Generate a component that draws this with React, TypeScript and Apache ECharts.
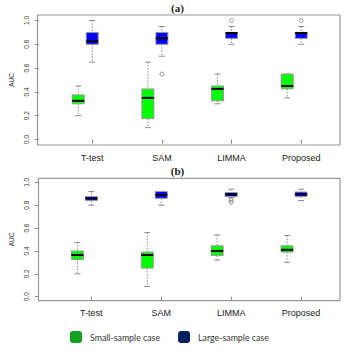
import React, { useEffect, useRef } from "react";
import * as echarts from "echarts";

const methods = ["T-test", "SAM", "LIMMA", "Proposed"];
const yTicks = [0, 0.2, 0.4, 0.6, 0.8, 1.0];

// [min, Q1, median, Q3, max]
const smallA = [
  [0.2, 0.3, 0.325, 0.375, 0.45],
  [0.1, 0.175, 0.35, 0.425, 0.65],
  [0.3, 0.325, 0.425, 0.45, 0.55],
  [0.35, 0.425, 0.45, 0.55, 0.55],
];
const largeA = [
  [0.65, 0.8, 0.825, 0.9, 1.0],
  [0.7, 0.8, 0.85, 0.9, 0.95],
  [0.8, 0.85, 0.895, 0.9, 0.95],
  [0.8, 0.85, 0.895, 0.9, 0.95],
];
const outliersA = [
  [1, 0.55],
  [2, 1.0],
  [3, 1.0],
];

const smallB = [
  [0.2, 0.325, 0.365, 0.4, 0.475],
  [0.09, 0.25, 0.365, 0.39, 0.56],
  [0.32, 0.36, 0.4, 0.445, 0.54],
  [0.3, 0.39, 0.41, 0.445, 0.535],
];
const largeB = [
  [0.8, 0.84, 0.86, 0.875, 0.92],
  [0.8, 0.86, 0.89, 0.92, 0.92],
  [0.865, 0.875, 0.895, 0.91, 0.94],
  [0.84, 0.875, 0.896, 0.915, 0.94],
];
const outliersB = [
  [2, 0.845],
  [2, 0.825],
];

const SMALL = "Small-sample case";
const LARGE = "Large-sample case";

export default function App() {
  const ref = useRef<HTMLDivElement>(null);
  useEffect(() => {
    if (!ref.current) return;
    const chart = echarts.init(ref.current, null, { renderer: "svg" });

    const makeRender = (fill: string, dx: number) => (params: any, api: any) => {
      const c = api.value(0);
      const pMin = api.coord([c, api.value(1)]);
      const pQ1 = api.coord([c, api.value(2)]);
      const pMed = api.coord([c, api.value(3)]);
      const pQ3 = api.coord([c, api.value(4)]);
      const pMax = api.coord([c, api.value(5)]);
      const x = pMin[0] + dx;
      const hw = 6;
      const cw = 3;
      const wStyle = { stroke: "#8c8c8c", lineWidth: 1, lineDash: [1.5, 1.5] };
      const cStyle = { stroke: "#8c8c8c", lineWidth: 1 };
      return {
        type: "group",
        children: [
          { type: "line", shape: { x1: x, y1: pMax[1], x2: x, y2: pQ3[1] }, style: wStyle },
          { type: "line", shape: { x1: x, y1: pQ1[1], x2: x, y2: pMin[1] }, style: wStyle },
          { type: "line", shape: { x1: x - cw, y1: pMax[1], x2: x + cw, y2: pMax[1] }, style: cStyle },
          { type: "line", shape: { x1: x - cw, y1: pMin[1], x2: x + cw, y2: pMin[1] }, style: cStyle },
          {
            type: "rect",
            shape: { x: x - hw, y: pQ3[1], width: hw * 2, height: pQ1[1] - pQ3[1] },
            style: { fill, stroke: "#999", lineWidth: 1 },
          },
          {
            type: "line",
            shape: { x1: x - hw, y1: pMed[1], x2: x + hw, y2: pMed[1] },
            style: { stroke: "#000", lineWidth: 2 },
          },
        ],
      };
    };

    const toRows = (arr: number[][]) => arr.map((r, i) => [i, ...r]);

    const panels = [
      { top: 20.5, height: 119, frameTop: 15, frameBottom: 145, axisX: 37.5, small: smallA, large: largeA, out: outliersA, title: "(a)", titleTop: 2 },
      { top: 182.3, height: 114.4, frameTop: 178.3, frameBottom: 300.7, axisX: 38.5, small: smallB, large: largeB, out: outliersB, title: "(b)", titleTop: 165 },
    ];

    const gridLeft = 56;
    const gridWidth = 280;

    const option: any = {
      animation: false,
      title: panels.map((p) => ({
        text: p.title,
        left: "center",
        top: p.titleTop,
        padding: 0,
        textStyle: { fontFamily: "Liberation Serif", fontWeight: "bold", fontSize: 11, color: "#222" },
      })),
      grid: panels.map((p) => ({ left: gridLeft, width: gridWidth, top: p.top, height: p.height })),
      xAxis: panels.map((p, i) => ({
        type: "category",
        gridIndex: i,
        data: methods,
        boundaryGap: true,
        offset: p.frameBottom - (p.top + p.height),
        axisLine: { show: false },
        axisTick: { show: true, alignWithLabel: true, length: 4, lineStyle: { color: "#888" } },
        axisLabel: { margin: 8, fontFamily: "Liberation Sans", fontSize: 9, color: "#222" },
        splitLine: { show: false },
      })),
      yAxis: panels.map((p, i) => ({
        type: "value",
        gridIndex: i,
        min: 0,
        max: 1,
        interval: 0.2,
        offset: gridLeft - p.axisX,
        name: "AUC",
        nameLocation: "middle",
        nameGap: 23,
        nameTextStyle: { fontFamily: "Liberation Sans", fontSize: 6.5, color: "#222" },
        axisLine: { show: false },
        axisTick: { show: true, length: 4, lineStyle: { color: "#888" } },
        axisLabel: {
          rotate: 90,
          margin: 9,
          fontFamily: "Liberation Sans",
          fontSize: 6.5,
          color: "#333",
          formatter: (v: number) => v.toFixed(1),
          customValues: yTicks,
        },
        splitLine: { show: false },
      })),
      graphic: panels.map((p) => ({
        type: "rect",
        shape: { x: p.axisX, y: p.frameTop, width: 340 - p.axisX, height: p.frameBottom - p.frameTop },
        style: { fill: "none", stroke: "#999", lineWidth: 1.2 },
        silent: true,
      })),
      legend: {
        left: 70,
        top: 331,
        padding: 0,
        itemWidth: 12,
        itemHeight: 12,
        itemGap: 18,
        icon: "roundRect",
        textStyle: { fontFamily: "Lato", fontSize: 8.8, color: "#333", padding: [0, 0, 0, 3] },
        data: [
          { name: SMALL, itemStyle: { color: "#13a01e", borderWidth: 0 } },
          { name: LARGE, itemStyle: { color: "#00205f", borderWidth: 0 } },
        ],
      },
      series: [] as any[],
    };

    panels.forEach((p, i) => {
      option.series.push({
        type: "custom",
        name: SMALL,
        xAxisIndex: i,
        yAxisIndex: i,
        data: toRows(p.small),
        encode: { x: 0, y: [1, 2, 3, 4, 5] },
        itemStyle: { color: "#13a01e" },
        renderItem: makeRender("#00ff00", -14),
      });
      option.series.push({
        type: "custom",
        name: LARGE,
        xAxisIndex: i,
        yAxisIndex: i,
        data: toRows(p.large),
        encode: { x: 0, y: [1, 2, 3, 4, 5] },
        itemStyle: { color: "#00205f" },
        renderItem: makeRender("#0000ff", 0),
      });
      option.series.push({
        type: "scatter",
        xAxisIndex: i,
        yAxisIndex: i,
        data: p.out,
        symbol: "circle",
        symbolSize: 4,
        itemStyle: { color: "transparent", borderColor: "#777", borderWidth: 1 },
      });
    });

    chart.setOption(option);
    return () => chart.dispose();
  }, []);

  return <div ref={ref} style={{ width: 355, height: 354, position: "absolute", left: 0, top: 0 }} />;
}
